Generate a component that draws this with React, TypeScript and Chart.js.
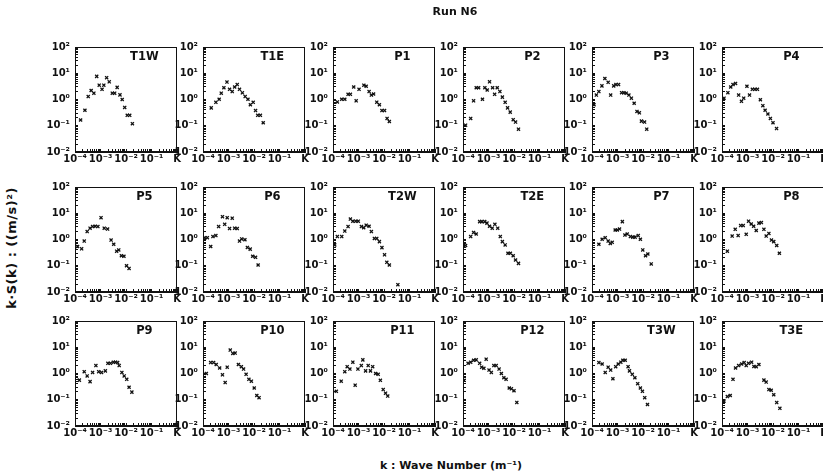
import { useEffect, useRef } from 'react';
import { Chart, registerables } from 'chart.js';
Chart.register(...registerables);

// ---- data: wave number k (1/m) and k·S(k) ((m/s)^2) per station ----
const k_T1W = [1.66e-4, 2.45e-4, 3.3e-4, 4.3e-4, 5.5e-4, 7.1e-4, 8.9e-4, 1.15e-3, 1.35e-3, 1.74e-3, 2.2e-3, 2.9e-3, 3.6e-3, 4.5e-3, 5.8e-3, 7.1e-3, 8.9e-3, 1.12e-2, 1.4e-2, 1.78e-2];
const S_T1W = [0.166, 0.39, 1.29, 2.2, 1.74, 7.6, 3.5, 2.45, 3.5, 6.8, 4.7, 1.74, 1.74, 2.9, 1.5, 1.0, 0.5, 0.25, 0.25, 0.12];

const k_T1E = [2.1e-4, 3.2e-4, 4.3e-4, 5.2e-4, 6.6e-4, 8.7e-4, 1.1e-3, 1.4e-3, 1.74e-3, 2.2e-3, 2.7e-3, 3.5e-3, 4.5e-3, 5.8e-3, 7.2e-3, 9.3e-3, 1.15e-2, 1.4e-2, 1.78e-2, 2.3e-2];
const S_T1E = [0.48, 0.78, 1.02, 1.74, 2.8, 4.6, 2.45, 2.0, 3.0, 3.7, 2.45, 1.8, 1.29, 1.02, 0.63, 0.78, 0.38, 0.25, 0.25, 0.13];

const k_P1 = [1.48e-4, 2.2e-4, 2.9e-4, 3.9e-4, 4.8e-4, 6.5e-4, 8.1e-4, 1.05e-3, 1.62e-3, 2.0e-3, 2.6e-3, 3.2e-3, 3.9e-3, 5.2e-3, 6.6e-3, 8.3e-3, 1.05e-2, 1.32e-2, 1.62e-2];
const S_P1 = [0.81, 1.02, 1.02, 1.58, 1.58, 3.0, 0.89, 2.45, 3.5, 3.2, 2.0, 1.48, 1.62, 0.79, 0.63, 0.38, 0.38, 0.19, 0.145];

const k_P2 = [1.26e-4, 2.0e-4, 2.6e-4, 3.3e-4, 4.1e-4, 5.8e-4, 7.2e-4, 8.9e-4, 1.1e-3, 1.45e-3, 1.74e-3, 2.2e-3, 2.8e-3, 3.5e-3, 4.5e-3, 5.6e-3, 7.1e-3, 9.3e-3, 1.15e-2, 1.5e-2];
const S_P2 = [0.105, 0.19, 0.89, 2.8, 2.8, 1.02, 2.8, 2.3, 4.7, 2.8, 1.58, 2.8, 2.0, 1.23, 0.78, 0.48, 0.33, 0.17, 0.138, 0.074];

const k_P3 = [1.2e-4, 1.48e-4, 1.86e-4, 2.45e-4, 3.2e-4, 4.3e-4, 5.4e-4, 7.1e-4, 8.7e-4, 1.1e-3, 1.45e-3, 1.78e-3, 2.2e-3, 2.8e-3, 3.5e-3, 4.5e-3, 5.8e-3, 7.2e-3, 8.7e-3, 1.15e-2, 1.4e-2];
const S_P3 = [0.63, 1.48, 2.0, 3.3, 6.3, 4.5, 1.48, 3.3, 3.7, 3.7, 1.82, 1.82, 1.74, 1.48, 1.12, 0.72, 0.35, 0.31, 0.15, 0.138, 0.074];

const k_P4 = [1.2e-4, 1.7e-4, 2.2e-4, 2.7e-4, 3.4e-4, 4.5e-4, 5.8e-4, 7.1e-4, 9.5e-4, 1.2e-3, 1.55e-3, 1.95e-3, 2.45e-3, 3.2e-3, 4.0e-3, 4.9e-3, 6.3e-3, 7.9e-3, 1.0e-2, 1.38e-2];
const S_P4 = [1.12, 1.82, 3.0, 3.7, 4.1, 1.48, 0.85, 1.12, 3.2, 1.48, 2.45, 2.45, 2.45, 0.98, 0.58, 0.39, 0.28, 0.19, 0.13, 0.078];

const k_P5 = [1.26e-4, 1.82e-4, 2.3e-4, 3.0e-4, 3.9e-4, 4.9e-4, 6.2e-4, 7.9e-4, 1.05e-3, 1.4e-3, 1.9e-3, 2.6e-3, 3.3e-3, 4.3e-3, 5.2e-3, 6.6e-3, 8.3e-3, 1.05e-2, 1.32e-2];
const S_P5 = [0.54, 0.44, 0.87, 2.0, 2.7, 3.1, 3.2, 3.1, 6.8, 2.7, 2.5, 0.95, 0.66, 0.36, 0.40, 0.24, 0.23, 0.10, 0.079];

const k_P6 = [1.17e-4, 1.48e-4, 2.0e-4, 2.45e-4, 3.2e-4, 4.1e-4, 5.8e-4, 7.1e-4, 8.9e-4, 1.1e-3, 1.4e-3, 1.74e-3, 2.2e-3, 2.7e-3, 3.3e-3, 4.4e-3, 5.5e-3, 7.1e-3, 8.9e-3, 1.15e-2, 1.45e-2];
const S_P6 = [1.17, 1.17, 0.54, 1.29, 1.41, 3.1, 7.4, 3.8, 6.8, 2.6, 6.5, 2.7, 2.6, 0.87, 1.05, 0.98, 0.50, 0.43, 0.23, 0.21, 0.107];

const k_T2W = [1.17e-4, 1.48e-4, 2.2e-4, 2.9e-4, 3.9e-4, 4.8e-4, 6.0e-4, 7.8e-4, 9.8e-4, 1.3e-3, 1.6e-3, 2.0e-3, 2.6e-3, 3.2e-3, 4.2e-3, 5.2e-3, 6.6e-3, 8.3e-3, 1.05e-2, 1.29e-2, 1.62e-2, 3.5e-2];
const S_T2W = [0.62, 1.29, 1.29, 2.1, 3.1, 6.0, 5.0, 5.0, 5.0, 3.1, 2.8, 3.5, 3.2, 2.0, 1.1, 1.1, 0.83, 0.49, 0.26, 0.135, 0.107, 0.019];

const k_T2E = [1.26e-4, 2.0e-4, 2.6e-4, 3.3e-4, 4.5e-4, 5.5e-4, 7.1e-4, 8.7e-4, 1.1e-3, 1.4e-3, 1.78e-3, 2.3e-3, 2.9e-3, 3.5e-3, 4.5e-3, 5.8e-3, 7.2e-3, 9.3e-3, 1.15e-2, 1.5e-2];
const S_T2E = [0.59, 1.29, 1.86, 1.62, 4.8, 4.8, 4.8, 4.2, 3.2, 2.7, 3.8, 2.7, 1.29, 0.83, 0.62, 0.30, 0.30, 0.24, 0.166, 0.123];

const k_P7 = [1.86e-4, 2.5e-4, 3.3e-4, 4.3e-4, 5.2e-4, 6.2e-4, 8.1e-4, 9.8e-4, 1.2e-3, 1.55e-3, 1.95e-3, 2.4e-3, 3.2e-3, 4.0e-3, 4.9e-3, 6.5e-3, 7.9e-3, 9.8e-3, 1.26e-2, 1.55e-2, 2.1e-2];
const S_P7 = [0.66, 1.02, 1.17, 0.87, 0.71, 0.78, 2.3, 2.3, 2.5, 4.8, 1.48, 1.62, 1.29, 1.23, 1.23, 1.41, 1.02, 0.40, 0.24, 0.28, 0.117];

const k_P8 = [1.62e-4, 2.5e-4, 3.3e-4, 4.3e-4, 5.4e-4, 6.8e-4, 8.9e-4, 1.1e-3, 1.4e-3, 1.74e-3, 2.2e-3, 2.8e-3, 3.5e-3, 4.4e-3, 5.4e-3, 6.9e-3, 8.7e-3, 1.07e-2, 1.4e-2, 1.78e-2];
const S_P8 = [0.36, 1.35, 2.45, 1.41, 3.4, 3.4, 1.58, 5.0, 3.9, 3.2, 2.2, 4.2, 4.4, 2.45, 1.35, 1.7, 0.95, 0.83, 0.59, 0.30];

const k_P9 = [1.48e-4, 2.3e-4, 3.0e-4, 3.9e-4, 4.9e-4, 6.6e-4, 8.5e-4, 1.1e-3, 1.55e-3, 1.95e-3, 2.45e-3, 3.2e-3, 3.9e-3, 4.7e-3, 5.4e-3, 6.9e-3, 8.5e-3, 1.07e-2, 1.32e-2, 1.7e-2];
const S_P9 = [0.56, 1.17, 0.81, 0.49, 1.1, 2.0, 1.17, 1.1, 1.26, 2.45, 2.45, 2.7, 2.7, 2.6, 2.0, 1.1, 0.81, 0.60, 0.30, 0.195];

const k_P10 = [1.35e-4, 2.0e-4, 2.6e-4, 3.3e-4, 4.5e-4, 5.8e-4, 7.4e-4, 8.9e-4, 1.17e-3, 1.48e-3, 1.82e-3, 2.45e-3, 3.2e-3, 3.9e-3, 4.9e-3, 6.3e-3, 7.9e-3, 1.02e-2, 1.29e-2, 1.58e-2];
const S_P10 = [1.0, 2.6, 2.6, 2.2, 1.62, 0.89, 0.45, 1.74, 7.8, 5.8, 6.0, 2.2, 1.82, 1.48, 0.93, 0.60, 0.51, 0.28, 0.145, 0.12];

const k_P11 = [1.35e-4, 2.1e-4, 2.9e-4, 3.6e-4, 4.6e-4, 6.0e-4, 7.4e-4, 9.5e-4, 1.29e-3, 1.48e-3, 1.9e-3, 2.4e-3, 2.95e-3, 3.6e-3, 4.7e-3, 5.9e-3, 7.2e-3, 9.3e-3, 1.15e-2, 1.4e-2];
const S_P11 = [0.21, 0.51, 1.17, 1.82, 1.48, 2.7, 0.36, 1.48, 2.0, 3.3, 1.26, 2.0, 1.26, 1.82, 1.0, 0.93, 0.55, 0.245, 0.178, 0.138];

const k_P12 = [1.1e-4, 1.58e-4, 2.0e-4, 2.6e-4, 3.3e-4, 4.5e-4, 5.4e-4, 6.6e-4, 8.1e-4, 1.05e-3, 1.29e-3, 1.62e-3, 2.0e-3, 2.6e-3, 3.2e-3, 4.0e-3, 4.9e-3, 6.5e-3, 7.9e-3, 1.0e-2, 1.29e-2];
const S_P12 = [0.55, 2.45, 2.7, 3.2, 3.3, 2.45, 1.74, 1.58, 3.5, 1.35, 1.1, 2.0, 2.0, 1.48, 1.0, 0.69, 0.60, 0.28, 0.26, 0.22, 0.079];

const k_T3W = [1.86e-4, 2.5e-4, 3.3e-4, 4.3e-4, 5.4e-4, 6.6e-4, 8.5e-4, 1.07e-3, 1.35e-3, 1.62e-3, 2.0e-3, 2.6e-3, 2.95e-3, 3.8e-3, 4.8e-3, 6.2e-3, 7.9e-3, 9.5e-3, 1.17e-2, 1.5e-2];
const S_T3W = [2.6, 2.3, 1.1, 1.74, 1.35, 0.63, 1.82, 2.3, 2.7, 3.2, 3.2, 1.82, 1.26, 0.93, 0.69, 0.41, 0.28, 0.21, 0.12, 0.066];

const k_T3E = [1.2e-4, 1.62e-4, 2.1e-4, 2.7e-4, 3.4e-4, 4.5e-4, 5.9e-4, 7.4e-4, 8.9e-4, 1.1e-3, 1.45e-3, 1.78e-3, 2.2e-3, 2.8e-3, 4.4e-3, 5.4e-3, 6.9e-3, 8.5e-3, 1.07e-2, 1.4e-2, 1.86e-2];
const S_T3E = [0.089, 0.132, 0.145, 0.60, 1.62, 2.0, 2.3, 2.6, 2.0, 2.45, 2.7, 1.86, 1.82, 2.2, 0.56, 0.47, 0.245, 0.23, 0.155, 0.078, 0.047];

const panelNames = ['T1W', 'T1E', 'P1', 'P2', 'P3', 'P4', 'P5', 'P6', 'T2W', 'T2E', 'P7', 'P8', 'P9', 'P10', 'P11', 'P12', 'T3W', 'T3E'];
const panelK = [k_T1W, k_T1E, k_P1, k_P2, k_P3, k_P4, k_P5, k_P6, k_T2W, k_T2E, k_P7, k_P8, k_P9, k_P10, k_P11, k_P12, k_T3W, k_T3E];
const panelS = [S_T1W, S_T1E, S_P1, S_P2, S_P3, S_P4, S_P5, S_P6, S_T2W, S_T2E, S_P7, S_P8, S_P9, S_P10, S_P11, S_P12, S_T3W, S_T3E];

const xTickValues = [1e-4, 1e-3, 1e-2, 1e-1, 1];
const xTickLabels = ['10\u207B\u2074', '10\u207B\u00B3', '10\u207B\u00B2', '10\u207B\u00B9', 'K'];
const yTickValues = [1e-2, 1e-1, 1, 10, 100];
const yTickLabels = ['10\u207B\u00B2', '10\u207B\u00B9', '10\u2070', '10\u00B9', '10\u00B2'];

const TITLE = 'Run N6';
const X_TITLE = 'k : Wave Number (m\u207B\u00B9)';
const Y_TITLE = 'k\u00B7S(k) : ((m/s)\u00B2)';

// ---- layout (page pixels) ----
const COL_LEFT = [75, 203, 333, 463, 592, 722];
const ROW_TOP = [47, 187, 321];
const BOX_W = 102;
const BOX_H = 105;
const LW = 30;
const PT = 16;
const PR = 8;
const XH = 18;
const INK = '#111';
const TICK_FONT = { family: '"DejaVu Sans", sans-serif', size: 10, weight: 'bold' as const };

function labelFor(v: number, vals: number[], labels: string[]) {
  for (let i = 0; i < vals.length; i++) {
    if (Math.abs(Math.log10(v) - Math.log10(vals[i])) < 1e-6) return labels[i];
  }
  return '';
}

function keepIntegerMantissa(scale: any) {
  scale.ticks = scale.ticks.filter((t: any) => {
    const e = Math.floor(Math.log10(t.value) + 1e-9);
    const m = t.value / Math.pow(10, e);
    return Math.abs(m - Math.round(m)) < 1e-6;
  });
}

const framePlugin = {
  id: 'panelFrame',
  afterDraw(chart: any, _args: any, opts: any) {
    const { ctx, chartArea: a } = chart;
    ctx.save();
    ctx.strokeStyle = INK;
    ctx.lineWidth = 1;
    ctx.strokeRect(Math.round(a.left) + 0.5, Math.round(a.top) + 0.5, Math.round(a.width) - 1, Math.round(a.height) - 1);
    ctx.fillStyle = INK;
    ctx.font = 'bold 11.5px "DejaVu Sans", sans-serif';
    ctx.textAlign = 'center';
    ctx.textBaseline = 'middle';
    ctx.fillText(opts.label, a.left + 0.68 * a.width, a.top + 10);
    ctx.restore();
  },
};

function Panel({ idx }: { idx: number }) {
  const ref = useRef<HTMLCanvasElement | null>(null);
  const col = idx % 6;
  const row = Math.floor(idx / 6);
  const w = LW + BOX_W + PR;
  const h = PT + BOX_H + XH;
  useEffect(() => {
    if (!ref.current) return;
    const ks = panelK[idx];
    const ss = panelS[idx];
    const chart = new Chart(ref.current, {
      type: 'scatter',
      data: {
        datasets: [
          {
            data: ks.map((x, i) => ({ x, y: ss[i] })),
            pointStyle: 'crossRot',
            pointRadius: 2.2,
            borderColor: INK,
            backgroundColor: INK,
            borderWidth: 1.3,
            showLine: false,
          } as any,
        ],
      },
      options: {
        animation: false,
        responsive: false,
        events: [],
        layout: { padding: { top: PT, right: PR, left: 0, bottom: 0 } },
        plugins: {
          legend: { display: false },
          tooltip: { enabled: false },
          panelFrame: { label: panelNames[idx] },
        } as any,
        scales: {
          x: {
            type: 'logarithmic',
            position: 'bottom',
            min: 1e-4,
            max: 1,
            afterBuildTicks: keepIntegerMantissa,
            afterFit: (s: any) => { s.height = XH; },
            grid: { drawOnChartArea: false, drawTicks: true, tickLength: -3, color: INK, lineWidth: 1 },
            border: { display: true, color: INK, width: 1 },
            ticks: {
              autoSkip: false,
              maxRotation: 0,
              minRotation: 0,
              padding: 4,
              color: INK,
              font: TICK_FONT,
              callback: (v: any) => labelFor(Number(v), xTickValues, xTickLabels),
            },
          },
          y: {
            type: 'logarithmic',
            position: 'left',
            min: 1e-2,
            max: 100,
            afterBuildTicks: keepIntegerMantissa,
            afterFit: (s: any) => { s.width = LW; },
            grid: { drawOnChartArea: false, drawTicks: true, tickLength: -3, color: INK, lineWidth: 1 },
            border: { display: true, color: INK, width: 1 },
            ticks: {
              autoSkip: false,
              padding: 8,
              color: INK,
              font: TICK_FONT,
              callback: (v: any) => labelFor(Number(v), yTickValues, yTickLabels),
            },
          },
        } as any,
      },
      plugins: [framePlugin as any],
    });
    return () => chart.destroy();
  }, [idx]);
  return (
    <canvas
      ref={ref}
      width={w}
      height={h}
      style={{ position: 'absolute', left: COL_LEFT[col] - LW, top: ROW_TOP[row] - PT, width: w, height: h }}
    />
  );
}

export default function App() {
  const textBase = {
    position: 'absolute' as const,
    fontFamily: '"DejaVu Sans", sans-serif',
    fontWeight: 'bold' as const,
    color: INK,
    whiteSpace: 'nowrap' as const,
    textAlign: 'center' as const,
  };
  return (
    <div style={{ position: 'absolute', left: 0, top: 0, width: 823, height: 476, overflow: 'hidden', background: '#fff' }}>
      {panelNames.map((_, i) => (
        <Panel key={i} idx={i} />
      ))}
      <div style={{ ...textBase, left: 405, top: 5, width: 100, fontSize: 11, lineHeight: '14px' }}>{TITLE}</div>
      <div style={{ ...textBase, left: 351, top: 459, width: 200, fontSize: 11, lineHeight: '14px' }}>{X_TITLE}</div>
      <div
        style={{
          ...textBase,
          left: 12 - 90,
          top: 248 - 8,
          width: 180,
          height: 16,
          fontSize: 13,
          lineHeight: '16px',
          letterSpacing: '0.5px',
          transform: 'rotate(-90deg)',
          transformOrigin: '50% 50%',
        }}
      >
        {Y_TITLE}
      </div>
    </div>
  );
}
